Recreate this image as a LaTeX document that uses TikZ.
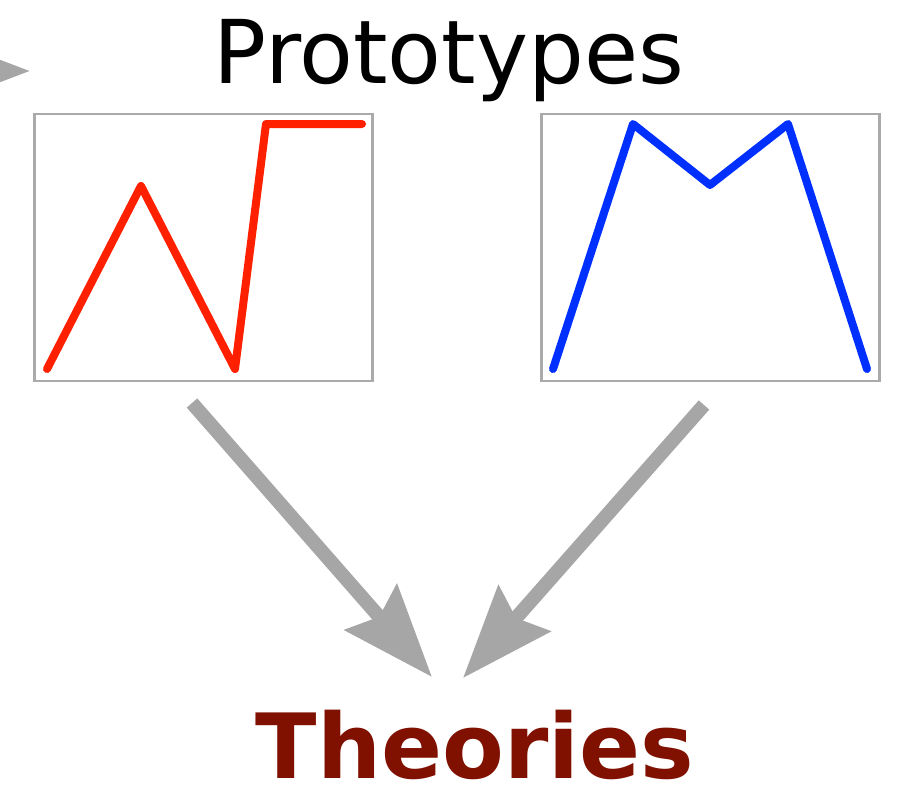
\documentclass[tikz,border=0pt]{standalone}
\usepackage{fontspec}
\setmainfont{DejaVu Sans}
\usetikzlibrary{arrows.meta}
\definecolor{arrowgray}{RGB}{166,166,166}
\definecolor{boxgray}{RGB}{170,170,170}
\definecolor{protored}{RGB}{255,32,0}
\definecolor{protoblue}{RGB}{0,48,255}
\definecolor{theorybrown}{RGB}{128,16,0}
\begin{document}
\begin{tikzpicture}[x=1pt,y=-1pt,
  protobox/.style={draw=boxgray,line width=2.5pt,fill=white,inner sep=0pt,
    minimum width=338pt,minimum height=267pt},
  curve/.style={line width=8pt,line join=round,line cap=round},
  bigarrow/.style={draw=arrowgray,line width=14pt,
    -{Stealth[length=92pt,width=68pt,inset=12pt]}},
  heading/.style={anchor=base,inner sep=0pt,text depth=0pt,
    font=\fontsize{88}{100}\selectfont}]
\useasboundingbox (0,0) rectangle (902,790);
\clip (0,0) rectangle (902,790);
\node[heading] (proto) at (449,83) {Prototypes};
\node[heading,text=theorybrown,font=\fontsize{90}{100}\selectfont\bfseries]
  (theo) at (475,778) {Theories};
\node[protobox] (redbox) at (203.5,247.5) {};
\node[protobox] (bluebox) at (710.5,247.5) {};
\draw[curve,protored] (47,369) -- (141,186) -- (235,369) -- (266,124) -- (362,124);
\draw[curve,protoblue] (553,369) -- (633,124) -- (710,185) -- (788,124) -- (867,369);
\coordinate (offleft) at (-80,71);
\coordinate (lefttip) at (30,71);
\coordinate (redstart) at (192,403);
\coordinate (redtip) at (432,677);
\coordinate (bluestart) at (704,405);
\coordinate (bluetip) at (463,678);
\draw[bigarrow] (offleft) -- (lefttip);
\draw[bigarrow] (redstart) -- (redtip);
\draw[bigarrow] (bluestart) -- (bluetip);
\end{tikzpicture}
\end{document}
